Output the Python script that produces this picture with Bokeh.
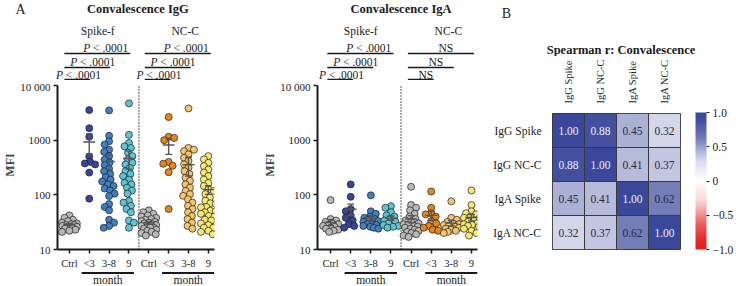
import math
import numpy as np
from bokeh.plotting import figure
from bokeh.models import (Range1d, FixedTicker, ColorBar, LinearColorMapper,
                          FactorRange, ColumnDataSource)
from bokeh.layouts import row, column
from bokeh.core.properties import value
from bokeh.embed import file_html
from bokeh.resources import INLINE

# ---------------- data ----------------
groups = ["Ctrl", "<3", "3-8", "9", "Ctrl", "<3", "3-8", "9"]
antigens = ["Spike-f", "NC-C"]
x_unit = "month"
y_ticks = [10, 100, 1000, 10000]
y_tick_labels = ["10", "100", "1000", "10 000"]

igg_spike_ctrl = [42, 38, 35, 33, 31, 30, 29, 28, 28, 27, 26, 26, 25, 24, 23, 22, 21]
igg_spike_lt3 = [3550, 1650, 1150, 500, 400, 375, 360, 255, 85]
igg_spike_3_8 = [3500, 1200, 950, 830, 670, 610, 510, 440, 390, 350, 300, 270, 240, 210, 190,
                 175, 155, 145, 130, 120, 105, 95, 68, 60, 52, 35, 31, 27, 25]
igg_spike_9 = [4700, 1250, 890, 770, 720, 590, 510, 440, 385, 360, 310, 270, 240, 220, 190,
               165, 155, 135, 120, 105, 78, 72, 63, 55, 48, 34, 31, 25]
igg_nc_ctrl = [52, 48, 45, 42, 40, 38, 36, 35, 33, 32, 31, 30, 29, 28, 27, 26, 25, 25, 24, 23,
               22, 21, 20, 19, 18]
igg_nc_lt3 = [2650, 1150, 1100, 1000, 400, 370, 340, 260, 55]
igg_nc_3_8 = [3800, 720, 670, 630, 550, 475, 415, 360, 315, 270, 240, 205, 180, 155, 135, 118,
              103, 96, 83, 72, 63, 55, 48, 41, 36, 31, 27, 24]
igg_nc_9 = [510, 445, 385, 335, 290, 255, 220, 190, 165, 145, 125, 118, 103, 89, 78, 70, 68, 60,
            59, 51, 50, 48, 45, 41, 40, 35, 34, 30, 28, 25, 25, 22, 21, 19]

iga_spike_ctrl = [80, 36, 34, 32, 30, 29, 28, 27, 26, 25, 24, 23, 22, 21]
iga_spike_lt3 = [155, 92, 55, 50, 42, 38, 34, 29, 27, 25]
iga_spike_3_8 = [98, 50, 45, 40, 38, 36, 35, 33, 32, 30, 29, 28, 27, 26, 25, 24]
iga_spike_9 = [62, 58, 48, 42, 40, 36, 34, 32, 30, 28, 27, 26, 25]
iga_nc_ctrl = [140, 65, 58, 52, 45, 40, 36, 34, 32, 30, 29, 28, 27, 26, 25, 24, 23, 22, 21, 20,
               19, 18, 17]
iga_nc_lt3 = [115, 58, 46, 44, 40, 33, 30, 27, 25, 23, 22]
iga_nc_3_8 = [76, 38, 35, 32, 30, 29, 28, 27, 26, 25, 24, 23, 22, 21, 20]
iga_nc_9 = [120, 65, 50, 46, 44, 40, 38, 36, 34, 32, 30, 29, 28, 27, 26, 24, 22, 20, 18]

igg_data = [igg_spike_ctrl, igg_spike_lt3, igg_spike_3_8, igg_spike_9,
            igg_nc_ctrl, igg_nc_lt3, igg_nc_3_8, igg_nc_9]
iga_data = [iga_spike_ctrl, iga_spike_lt3, iga_spike_3_8, iga_spike_9,
            iga_nc_ctrl, iga_nc_lt3, iga_nc_3_8, iga_nc_9]

# comparisons: (from group, to group, label)
igg_comparisons = [(0, 3, "P < .0001"), (0, 2, "P < .0001"), (0, 1, "P < .0001"),
                   (4, 7, "P < .0001"), (4, 6, "P < .0001"), (4, 5, "P < .0001")]
iga_comparisons = [(0, 3, "P < .0001"), (0, 2, "P < .0001"), (0, 1, "P < .0001"),
                   (4, 7, "NS"), (4, 6, "NS"), (4, 5, "NS")]

hm_labels = ["IgG Spike", "IgG NC-C", "IgA Spike", "IgA NC-C"]
hm_r = [[1.00, 0.88, 0.45, 0.32],
        [0.88, 1.00, 0.41, 0.37],
        [0.45, 0.41, 1.00, 0.62],
        [0.32, 0.37, 0.62, 1.00]]
cb_ticks = [-1.0, -0.5, 0.0, 0.5, 1.0]
cb_tick_labels = ["\u22121.0", "\u22120.5", "0", "0.5", "1.0"]

# ---------------- styling / layout ----------------
SERIF = "Liberation Serif"
INK = "#1a1a1a"
group_colors = ["#b8b8b8", "#35479a", "#3f80c4", "#5ec4d4",
                "#b8b8b8", "#e8861b", "#f6c46c", "#f8e873"]
DEC = 55.0          # pixels per decade
STRIP_H = 80        # header strip (titles, comparisons)
FRAME_H = 170       # scatter frame height
BOTTOM_B = 21       # x axis panel
MONTH_H = 286 - STRIP_H - FRAME_H - BOTTOM_B
Y_TOP = 10 ** (1 + FRAME_H / DEC)
COMMON = dict(toolbar_location=None, output_backend="svg", frame_align=False)


def swarm(vals, center, ppu, diam=5.4, max_off=7.5):
    ys = np.log10(np.asarray(vals, float)) * DEC
    order = np.argsort(-ys, kind="stable")
    placed = []
    xs = np.zeros(len(vals))
    steps = [k * 0.5 for k in range(0, int(max_off * 2) + 1)]
    for n, i in enumerate(order):
        sgn = 1 if n % 2 == 0 else -1
        cands = []
        for s in steps:
            cands.append(s * sgn)
            if s > 0:
                cands.append(-s * sgn)
        best = None
        best_d, best_c = -1.0, 0.0
        for c in cands:
            d = min((math.hypot(c - px, ys[i] - py) for px, py in placed), default=1e9)
            if d >= diam:
                best = c
                break
            if d > best_d:
                best_d, best_c = d, c
        if best is None:
            best = best_c
        placed.append((best, ys[i]))
        xs[i] = center + best / ppu
    return xs


def txt_kw(size="11px", style="normal", align="center", baseline="middle", color=INK):
    return dict(text_font=value(SERIF), text_font_size=size, text_font_style=style,
                text_align=align, text_baseline=baseline, text_color=color)


def bare(fig):
    fig.outline_line_color = None
    fig.grid.visible = False
    return fig


def scatter_panel(title, data, comps, fig_w, left_b, frame_w, x_start, x_end, letter=None):
    right_b = fig_w - left_b - frame_w
    ppu = frame_w / (x_end - x_start)
    xr = Range1d(x_start, x_end)

    # ---- header strip: same unit scale as the plot, spanning the full figure width
    hr = Range1d(x_start - left_b / ppu, x_end + right_b / ppu)
    h = bare(figure(width=fig_w, height=STRIP_H, x_range=hr, y_range=Range1d(STRIP_H, 0),
                    x_axis_type=None, y_axis_type=None, min_border=0, **COMMON))
    h.text(x=[3.5], y=[8], text=[title], **txt_kw(size="12.5px", style="bold"))
    h.text(x=[1.5, 5.85], y=[30, 30], text=antigens, **txt_kw(size="11.5px"))
    if letter:
        h.text(x=[hr.start + 20 / ppu], y=[8.5], text=[letter], **txt_kw(size="14px"))
    line_y = [53, 67, 80 - 1]
    text_y = [47.5, 61.5, 74.5]
    p_text_off = [-2, 5, 11]
    for k, (a, b, lab) in enumerate(comps):
        r = k % 3
        x0 = a - 0.16
        x1 = b + 0.12
        h.segment(x0=[x0], y0=[line_y[r]], x1=[x1], y1=[line_y[r]], line_color=INK,
                  line_width=1.3)
        if lab.startswith("P"):
            xr_ = x1 + p_text_off[r] / ppu
            h.text(x=[xr_], y=[text_y[r]], text=[lab[1:].strip()],
                   **txt_kw(size="11.5px", align="right"))
            h.text(x=[xr_], y=[text_y[r]], text=[lab[0]], x_offset=-38,
                   **txt_kw(size="11.5px", style="italic", align="right"))
        else:
            h.text(x=[(x0 + x1) / 2 + 0.25], y=[text_y[r]], text=[lab],
                   **txt_kw(size="11.5px"))

    # ---- main scatter
    p = bare(figure(width=fig_w, height=FRAME_H + BOTTOM_B, x_range=xr,
                    y_range=Range1d(10, Y_TOP), y_axis_type="log",
                    min_border_left=left_b, min_border_right=right_b,
                    min_border_top=0, min_border_bottom=BOTTOM_B, **COMMON))

    ya = p.yaxis[0]
    ya.ticker = FixedTicker(ticks=y_ticks, minor_ticks=[])
    ya.major_label_overrides = {t: l for t, l in zip(y_ticks, y_tick_labels)}
    ya.bounds = (y_ticks[0], y_ticks[-1])
    ya.axis_line_width = 2
    ya.axis_line_color = INK
    ya.major_tick_out = 4
    ya.major_tick_in = 0
    ya.major_tick_line_width = 1.5
    ya.major_tick_line_color = INK
    ya.major_label_standoff = 3
    ya.major_label_text_font = SERIF
    ya.major_label_text_font_size = "11px"
    ya.major_label_text_color = "#222222"
    ya.axis_label = "MFI"
    ya.axis_label_text_font = SERIF
    ya.axis_label_text_font_style = "bold"
    ya.axis_label_text_font_size = "12px"
    ya.axis_label_standoff = 0

    xa = p.xaxis[0]
    xa.ticker = FixedTicker(ticks=list(range(len(groups))), minor_ticks=[])
    xa.major_label_overrides = {i: g for i, g in enumerate(groups)}
    xa.axis_line_width = 2
    xa.axis_line_color = INK
    xa.major_tick_out = 4
    xa.major_tick_in = 0
    xa.major_tick_line_width = 1.5
    xa.major_tick_line_color = INK
    xa.major_label_standoff = 4
    xa.major_label_text_font = SERIF
    xa.major_label_text_font_size = "10.5px"
    xa.major_label_text_color = "#222222"

    p.segment(x0=[3.5], y0=[y_ticks[0]], x1=[3.5], y1=[y_ticks[-1]],
              line_color="#333333", line_width=1.6, line_dash="1 2")

    for gi, vals in enumerate(data):
        xs = swarm(vals, gi, ppu)
        p.scatter(xs, vals, size=7, fill_color=group_colors[gi], line_color="#1c1c1c",
                  line_width=0.7)
    for gi, vals in enumerate(data):
        v = np.asarray(vals, float)
        m = v.mean()
        sem = v.std(ddof=1) / math.sqrt(len(v))
        p.segment(x0=[gi - 0.3, gi, gi - 0.17, gi - 0.17],
                  y0=[m, m - sem, m - sem, m + sem],
                  x1=[gi + 0.3, gi, gi + 0.17, gi + 0.17],
                  y1=[m, m + sem, m - sem, m + sem],
                  line_color="#555555", line_width=1.4)

    # ---- month strip
    m = bare(figure(width=fig_w, height=MONTH_H, x_range=xr, y_range=Range1d(MONTH_H, 0),
                    x_axis_type=None, y_axis_type=None,
                    min_border_left=left_b, min_border_right=right_b,
                    min_border_top=0, min_border_bottom=0, **COMMON))
    m.segment(x0=[0.7, 4.7], y0=[1.5, 1.5], x1=[3.3, 7.3], y1=[1.5, 1.5],
              line_color=INK, line_width=2)
    m.text(x=[2, 6], y=[8.5, 8.5], text=[x_unit, x_unit], **txt_kw(size="11.5px"))
    return column(h, p, m, spacing=0)


colA = scatter_panel("Convalescence IgG", igg_data, igg_comparisons, 250, 55, 159,
                     -0.6, 7.31, letter="A")
colB = scatter_panel("Convalescence IgA", iga_data, iga_comparisons, 240, 67, 160,
                     -0.65, 7.3)

# ---------------- heatmap ----------------
def palette_from_stops():
    stops_x = [0.0, 0.3, 0.45, 0.62, 0.88, 1.0]
    stops_i = [0.0, 0.2, 0.43, 0.71, 0.96, 1.0]
    blue = np.array([58, 72, 155])
    red = np.array([228, 30, 28])
    white = np.array([255, 255, 255])
    pal = []
    n = 256
    for k in range(n):
        t = -1 + 2 * (k + 0.5) / n
        it = np.interp(abs(t), stops_x, stops_i)
        end = blue if t >= 0 else red
        c = white * (1 - it) + end * it
        pal.append("#%02x%02x%02x" % tuple(int(round(v)) for v in c))
    return pal


mapper = LinearColorMapper(palette=palette_from_stops(), low=-1, high=1)

HM_W, HM_LEFT, HM_RIGHT = 246, 62, 47
HM_FRAME = HM_W - HM_LEFT - HM_RIGHT
HM_STRIP = 56
HM_TOP = 112 - HM_STRIP
HM_BOTTOM = 286 - 112 - HM_FRAME
n_hm = len(hm_labels)
hppu = HM_FRAME / n_hm

hs = bare(figure(width=HM_W, height=HM_STRIP,
                 x_range=Range1d(-HM_LEFT / hppu, n_hm + HM_RIGHT / hppu),
                 y_range=Range1d(HM_STRIP, 0), x_axis_type=None, y_axis_type=None,
                 min_border=0, **COMMON))
hs.text(x=[n_hm / 2], y=[49], text=["Spearman r: Convalescence"],
        **txt_kw(size="12.5px", style="bold"))
hs.text(x=[-HM_LEFT / hppu + 16 / hppu], y=[12.5], text=["B"], **txt_kw(size="14px"))

pc = bare(figure(width=HM_W, height=286 - HM_STRIP, x_range=FactorRange(*hm_labels),
                 y_range=FactorRange(*hm_labels[::-1]), x_axis_location="above",
                 min_border_left=HM_LEFT, min_border_right=HM_RIGHT,
                 min_border_top=HM_TOP, min_border_bottom=HM_BOTTOM, **COMMON))
pc.outline_line_color = "#333333"
xs, ys, vals = [], [], []
for i, rname in enumerate(hm_labels):
    for j, cname in enumerate(hm_labels):
        xs.append(cname)
        ys.append(rname)
        vals.append(hm_r[i][j])
src = ColumnDataSource(dict(x=xs, y=ys, v=vals, txt=["%.2f" % v for v in vals],
                            tc=["#eceef8" if v >= 0.8 else "#2a2a3a" for v in vals]))
pc.rect("x", "y", 1, 1, source=src, fill_color={"field": "v", "transform": mapper},
        line_color="#3a3a3a", line_width=1)
pc.text("x", "y", text="txt", source=src, text_color="tc", text_font=value(SERIF),
        text_font_size="11.5px", text_align="center", text_baseline="middle")

for ax in (pc.xaxis[0], pc.yaxis[0]):
    ax.axis_line_color = None
    ax.major_tick_line_color = None
    ax.minor_tick_line_color = None
    ax.major_label_text_font = SERIF
    ax.major_label_text_color = "#222222"
pc.xaxis[0].major_label_orientation = "vertical"
pc.xaxis[0].major_label_standoff = 4
pc.xaxis[0].major_label_text_font_size = "10.5px"
pc.yaxis[0].major_label_standoff = 5
pc.yaxis[0].major_label_text_font_size = "11.5px"

cb = ColorBar(color_mapper=mapper, ticker=FixedTicker(ticks=cb_ticks, minor_ticks=[]),
              major_label_overrides={t: l for t, l in zip(cb_ticks, cb_tick_labels)},
              width=11, height=HM_FRAME, padding=0, margin=0, location=(15, 0),
              major_tick_in=0, major_tick_out=3, major_tick_line_color="#222222",
              label_standoff=3, bar_line_color=None, border_line_color=None,
              background_fill_color=None,
              major_label_text_font=SERIF, major_label_text_font_size="11.5px",
              major_label_text_color="#222222")
pc.add_layout(cb, "right")

colC = column(hs, pc, spacing=0)
layout = row(colA, colB, colC, spacing=0)
open("out.html", "w").write(file_html(layout, INLINE))
